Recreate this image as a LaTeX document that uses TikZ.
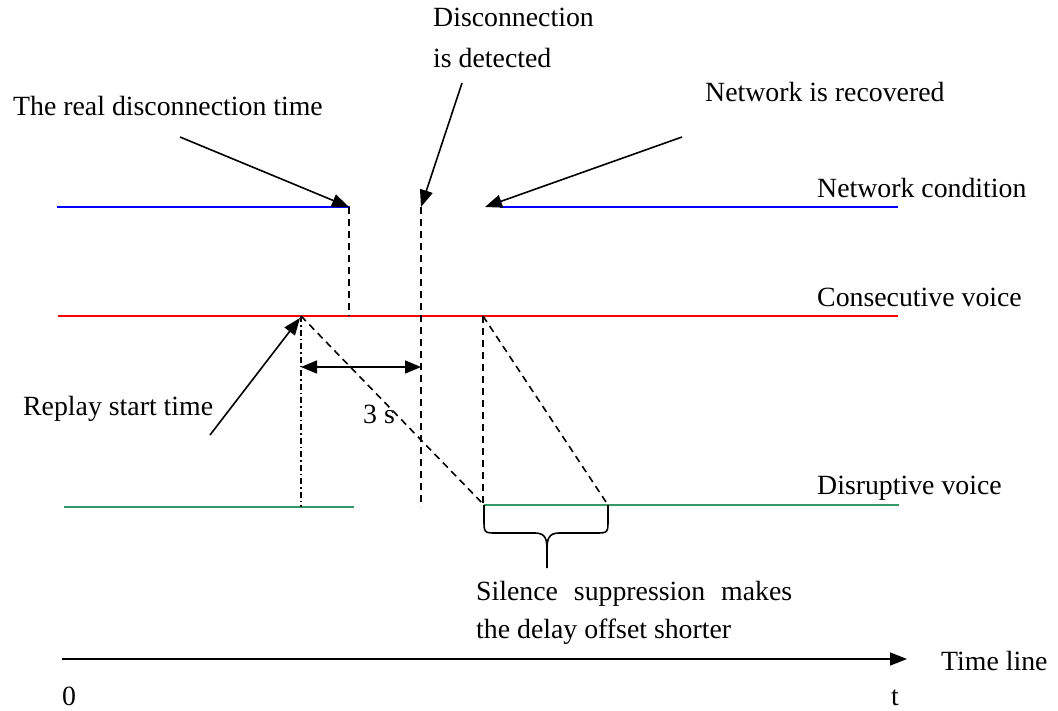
\documentclass[tikz,border=0pt]{standalone}
\usepackage{fontspec}
\setmainfont{Liberation Serif}
\usetikzlibrary{arrows.meta,positioning,calc}
\definecolor{netblue}{RGB}{0,0,255}
\definecolor{voicered}{RGB}{255,0,0}
\definecolor{voicegreen}{RGB}{51,153,102}
\tikzset{
  lbl/.style = {anchor=base west, inner sep=0pt, font=\fontsize{27.8}{34}\selectfont},
  level/.style = {line width=2pt},
  trans/.style = {-{Triangle[length=17pt,width=13pt]}, line width=1.6pt},
  span/.style = {{Triangle[length=16pt,width=13pt]}-{Triangle[length=16pt,width=13pt]}, line width=1.6pt},
  guide/.style = {line width=1.6pt, dash pattern=on 7pt off 5pt},
  replayguide/.style = {line width=1.6pt, dash pattern=on 6pt off 3pt on 1.5pt off 3pt},
  bracepath/.style = {line width=1.6pt}
  }
\begin{document}
\begin{tikzpicture}[x=1pt,y=-1pt]
\useasboundingbox (0,0) rectangle (1058,710);

% labels
\node[lbl] (real) at (13,115) {The real disconnection time};
\node[lbl,anchor=north west,align=left,font=\fontsize{27.8}{41}\selectfont] (detect) at (433,8) {Disconnection\\is detected};
\node[lbl] (recovered) at (705,101) {Network is recovered};
\node[lbl] (netcond) at (817,197) {Network condition};
\node[lbl] (consec) at (817,306) {Consecutive voice};
\node[lbl] (disrupt) at (817,494) {Disruptive voice};
\node[lbl] (replay) at (23,415) {Replay start time};
\node[lbl] (three) at (363,423) {3 s};
\node[lbl,anchor=north west,text width=316pt,align=justify,font=\fontsize{27.8}{38}\selectfont] (silence) at (476,581) {Silence\hfill suppression\hfill makes\\the delay offset shorter};
\node[lbl] (timelbl) at (941,670) {Time line};
\node[lbl] (zero) at (62,705) {0};
\node[lbl] (tend) at (891,705) {t};

% time points
\coordinate (netA) at (57,207);
\coordinate (netB) at (350,207);
\coordinate (netC) at (500,207);
\coordinate (netD) at (898,207);
\coordinate (voiceA) at (58,316);
\coordinate (voiceB) at (898,316);
\coordinate (disA) at (64,507);
\coordinate (disB) at (354,507);
\coordinate (disC) at (484,505);
\coordinate (disD) at (899,505);
\coordinate (cutnet) at (349,207);
\coordinate (cutvoice) at (349,316);
\coordinate (detnet) at (421,207);
\coordinate (detlow) at (421,507);
\coordinate (startvoice) at (301,316);
\coordinate (startlow) at (301,507);
\coordinate (recvoice) at (483,316);
\coordinate (reclow) at (483,505);
\coordinate (recnet) at (485,207);
\coordinate (silend) at (608,505);
\coordinate (gapA) at (301,367);
\coordinate (gapB) at (421,367);
\coordinate (t0) at (62,659);
\coordinate (t1) at (907,659);

% arrow tails
\coordinate (realtail) at (180,137);
\coordinate (dettail) at (462,83);
\coordinate (rectail) at (682,137);
\coordinate (replaytail) at (210,435);

% levels
\draw[level,netblue] (netA) -- (netB);
\draw[level,netblue] (netC) -- (netD);
\draw[level,voicered] (voiceA) -- (voiceB);
\draw[level,voicegreen] (disA) -- (disB);
\draw[level,voicegreen] (disC) -- (disD);

% guides
\draw[guide] (cutnet) -- (cutvoice);
\draw[guide] (detnet) -- (detlow);
\draw[guide] (recvoice) -- (reclow);
\draw[replayguide] (startvoice) -- (startlow);
\draw[guide] (startvoice) -- (disC);
\draw[guide] (recvoice) -- (silend);
\draw[span] (gapA) -- (gapB);

% pointers
\draw[trans] (realtail) -- (cutnet);
\draw[trans] (dettail) -- (detnet);
\draw[trans] (rectail) -- (recnet);
\draw[trans] (replaytail) -- ($(startvoice)+(-1,2)$);

% brace
\draw[bracepath] (disC) -- (484,519) .. controls (484,533) .. (497,533) -- (535,533) .. controls (546,533) and (547,540) .. (547,550) -- (547,568);
\draw[bracepath] (silend) -- (608,519) .. controls (608,533) .. (595,533) -- (559,533) .. controls (548,533) and (547,540) .. (547,550);

\draw[trans] (t0) -- (t1);
\end{tikzpicture}
\end{document}
